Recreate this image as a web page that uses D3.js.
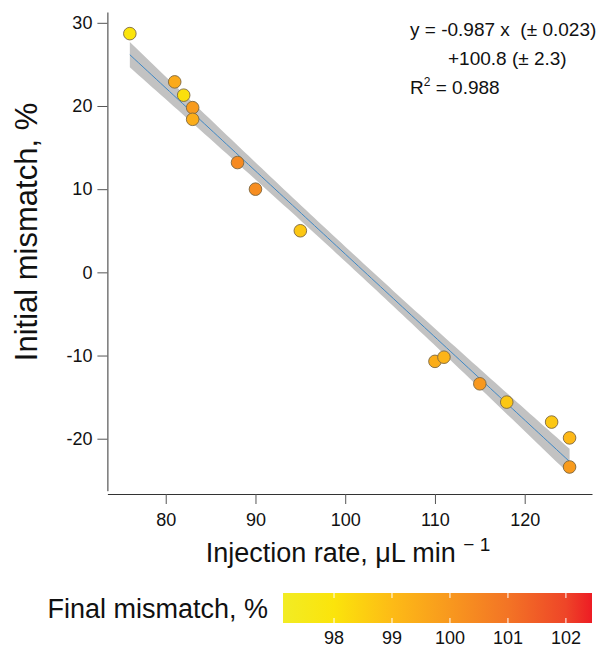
<!DOCTYPE html>
<html>
<head>
<meta charset="utf-8">
<script src="https://cdn.jsdelivr.net/npm/d3@7"></script>
<style>
  body { margin: 0; background: #fff; }
  svg { font-family: "Liberation Sans", Arial, Helvetica, sans-serif; }
</style>
</head>
<body>
<svg id="chart" width="608" height="650"></svg>
<script>
// injection rate (uL/min), initial mismatch (%), final mismatch (%)
var injection = [76, 81, 82, 83, 83, 88, 90, 95, 110, 111, 115, 118, 123, 125, 125];
var initial   = [28.7, 22.9, 21.3, 19.8, 18.4, 13.2, 10.0, 5.0, -10.7, -10.2, -13.4, -15.6, -18.0, -19.9, -23.4];
var final     = [98.0, 99.5, 98.1, 99.9, 99.4, 100.4, 100.3, 98.7, 99.4, 99.2, 100.0, 98.7, 98.7, 99.1, 99.9];

var xTicks = [80, 90, 100, 110, 120];
var yTicks = [-20, -10, 0, 10, 20, 30];
var cTicks = [98, 99, 100, 101, 102];

var stopValues = [97.12, 98, 99, 100, 101, 102, 102.45];
var stopColors = ["#f2ec24", "#fbe40b", "#fdbb16", "#f8981e", "#f37425", "#ee4528", "#ed1c24"];

var fitLines = ["y = -0.987 x  (\u00b1 0.023)", "+100.8 (\u00b1 2.3)"];
var r2Text = "0.988";

var svg = d3.select("#chart");

var x = d3.scaleLinear().domain([73.5, 127.5]).range([107.4, 592]);
var y = d3.scaleLinear().domain([-26.25, 31.3]).range([490.7, 12]);
var color = d3.scaleLinear().domain(stopValues).range(stopColors);

var data = injection.map(function(d, i) {
  return {x: d, y: initial[i], c: final[i]};
});

// linear fit + confidence band
var n = data.length;
var mx = d3.mean(data, function(d) { return d.x; });
var my = d3.mean(data, function(d) { return d.y; });
var sxx = d3.sum(data, function(d) { return (d.x - mx) * (d.x - mx); });
var sxy = d3.sum(data, function(d) { return (d.x - mx) * (d.y - my); });
var slope = sxy / sxx;
var icpt = my - slope * mx;
var sres = Math.sqrt(d3.sum(data, function(d) {
  var r = d.y - (icpt + slope * d.x); return r * r; }) / (n - 2));
var tval = 1.77;

var xs = d3.range(0, 101).map(function(i) {
  return d3.min(injection) + i / 100 * (d3.max(injection) - d3.min(injection));
});
var band = xs.map(function(v) {
  var fit = icpt + slope * v;
  var se = sres * Math.sqrt(1 / n + (v - mx) * (v - mx) / sxx);
  return {x: v, fit: fit, lo: fit - tval * se, hi: fit + tval * se};
});

svg.append("path")
    .datum(band)
    .attr("fill", "#c2c2c2")
    .attr("d", d3.area()
      .x(function(d) { return x(d.x); })
      .y0(function(d) { return y(d.lo); })
      .y1(function(d) { return y(d.hi); }));

svg.append("path")
    .datum(band)
    .attr("fill", "none")
    .attr("stroke", "#3f88c5")
    .attr("stroke-width", 1)
    .attr("d", d3.line()
      .x(function(d) { return x(d.x); })
      .y(function(d) { return y(d.fit); }));

// axes
var xAxis = svg.append("g")
    .attr("transform", "translate(0,494)")
    .call(d3.axisBottom(x).tickValues(xTicks).tickSize(10).tickPadding(9).tickSizeOuter(0));
var yAxis = svg.append("g")
    .attr("transform", "translate(107.4,0)")
    .call(d3.axisLeft(y).tickValues(yTicks).tickSize(10).tickPadding(5).tickSizeOuter(0)
      .tickFormat(function(d) { return String(d); }));

[xAxis, yAxis].forEach(function(g) {
  g.select(".domain").attr("stroke", "#333");
  g.selectAll(".tick line").attr("stroke", "#555");
  g.selectAll(".tick text")
    .attr("fill", "#111")
    .style("font-size", "18px")
    .style("font-family", "'Liberation Sans', Arial, sans-serif");
});

// points
svg.append("g")
  .selectAll("circle")
  .data(data)
  .enter().append("circle")
    .attr("cx", function(d) { return x(d.x); })
    .attr("cy", function(d) { return y(d.y); })
    .attr("r", 6.3)
    .attr("fill", function(d) { return color(d.c); })
    .attr("stroke", "#7d6842")
    .attr("stroke-width", 0.9);

// fit annotation
var ann = svg.append("g").style("font-size", "19px").attr("fill", "#111");
ann.append("text").attr("x", 410).attr("y", 36).style("white-space", "pre").text(fitLines[0]);
ann.append("text").attr("x", 448).attr("y", 65).style("white-space", "pre").text(fitLines[1]);
var r2 = ann.append("text").attr("x", 410).attr("y", 94);
r2.append("tspan").text("R");
r2.append("tspan").attr("dy", -8).style("font-size", "12px").text("2");
r2.append("tspan").attr("dy", 8).text(" = " + r2Text);

// axis titles
svg.append("text")
    .attr("transform", "translate(37,232) rotate(-90)")
    .attr("text-anchor", "middle")
    .style("font-size", "31px")
    .attr("fill", "#111")
    .text("Initial mismatch, %");

var xl = svg.append("text")
    .attr("x", 348).attr("y", 562)
    .attr("text-anchor", "middle")
    .style("font-size", "27px")
    .attr("fill", "#111");
xl.append("tspan").text("Injection rate, \u03bcL min ");
xl.append("tspan").attr("dy", -11).style("font-size", "19px").text("\u2212 1");

// colour bar
var cx = d3.scaleLinear().domain([97.12, 102.45]).range([283, 592]);
var defs = svg.append("defs");
var grad = defs.append("linearGradient").attr("id", "cbar")
    .attr("x1", "0%").attr("x2", "100%").attr("y1", "0%").attr("y2", "0%");
grad.selectAll("stop")
  .data(stopValues)
  .enter().append("stop")
    .attr("offset", function(d) { return (cx(d) - 283) / (592 - 283); })
    .attr("stop-color", function(d, i) { return stopColors[i]; });

svg.append("rect")
    .attr("x", 283).attr("y", 593)
    .attr("width", 309).attr("height", 30)
    .attr("fill", "url(#cbar)");

var ct = svg.append("g");
ct.selectAll("line.top")
  .data(cTicks)
  .enter().append("line")
    .attr("x1", function(d) { return cx(d); })
    .attr("x2", function(d) { return cx(d); })
    .attr("y1", 593).attr("y2", 598)
    .attr("stroke", "#fff").attr("stroke-width", 1);
ct.selectAll("line.bot")
  .data(cTicks)
  .enter().append("line")
    .attr("x1", function(d) { return cx(d); })
    .attr("x2", function(d) { return cx(d); })
    .attr("y1", 618).attr("y2", 623)
    .attr("stroke", "#fff").attr("stroke-width", 1);
ct.selectAll("text")
  .data(cTicks)
  .enter().append("text")
    .attr("x", function(d) { return cx(d); })
    .attr("y", 644)
    .attr("text-anchor", "middle")
    .style("font-size", "18px")
    .attr("fill", "#111")
    .text(function(d) { return d; });

svg.append("text")
    .attr("x", 268).attr("y", 618)
    .attr("text-anchor", "end")
    .style("font-size", "27px")
    .attr("fill", "#111")
    .text("Final mismatch, %");
</script>
</body>
</html>
